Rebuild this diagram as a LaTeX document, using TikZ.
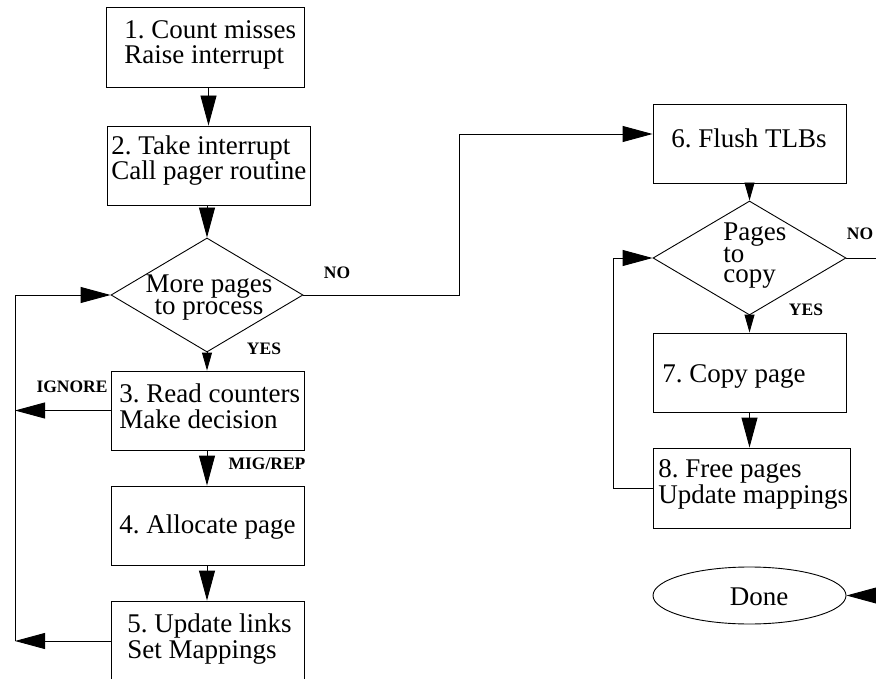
\documentclass[tikz,border=0pt]{standalone}
\usepackage{fontspec}
\setmainfont{Liberation Serif}
\usetikzlibrary{arrows.meta,shapes.geometric}
\frenchspacing
\begin{document}
\begin{tikzpicture}[x=1pt,y=-1pt,
  line width=0.9pt,
  box/.style={draw,rectangle,inner sep=0pt},
  dia/.style={draw,diamond,inner sep=0pt},
  txt/.style={font=\fontsize{27}{25.5}\selectfont,inner sep=0pt,align=left,anchor=base west},
  tag/.style={font=\fontsize{17.5}{17.5}\selectfont\bfseries,inner sep=0pt},
  big/.style={-{Triangle[length=30pt,width=16pt]}},
  small/.style={-{Triangle[length=18pt,width=10pt]}}]
\useasboundingbox (0,0) rectangle (876,679);
\clip (0,0) rectangle (876,679);

% left column: steps 1-5
\node[box,minimum width=198pt,minimum height=80pt] (b1) at (205,47) {};
\node[box,minimum width=203pt,minimum height=79pt] (b2) at (208.5,165.5) {};
\node[dia,minimum width=192pt,minimum height=114pt] (d1) at (207,295) {};
\node[box,minimum width=193pt,minimum height=79pt] (b3) at (207.5,410.5) {};
\node[box,minimum width=193pt,minimum height=79pt] (b4) at (207.5,525.5) {};
\node[box,minimum width=193pt,minimum height=80pt] (b5) at (207.5,641) {};

% multi-line texts are placed by the baseline of their last line
\node[txt] (t1) at (124,64) {1. Count misses\\Raise interrupt};
\node[txt] (t2) at (111,180) {2. Take interrupt\\Call pager routine};
\node[txt,align=center,anchor=base,font=\fontsize{27}{22}\selectfont] (td1) at (209,315) {More pages\\to process};
\node[txt] (t3) at (119,428) {3. Read counters\\Make decision};
\node[txt,anchor=base] (t4) at (207.5,533) {4. Allocate page};
\node[txt] (t5) at (127,658) {5. Update links\\Set Mappings};

% right column: steps 6-8
\node[box,minimum width=193pt,minimum height=79pt] (b6) at (749.5,143.5) {};
\node[dia,minimum width=193pt,minimum height=114pt] (d2) at (749.5,258) {};
\node[box,minimum width=193pt,minimum height=79pt] (b7) at (749.5,372.5) {};
\node[box,minimum width=197pt,minimum height=80pt] (b8) at (751.5,488) {};
\node[draw,ellipse,inner sep=0pt,minimum width=193pt,minimum height=57pt] (done) at (749.5,595.5) {};

\node[txt,anchor=base] (t6) at (749,148) {6. Flush TLBs};
\node[txt,font=\fontsize{27}{20.5}\selectfont] (td2) at (723,283) {Pages\\to\\copy};
\node[txt] (t7) at (662,382) {7. Copy page};
\node[txt] (t8) at (658,503) {8. Free pages\\Update mappings};
\node[txt,anchor=base] (tdone) at (759,605) {Done};

% branch labels
\node[tag] (no1) at (337,273) {NO};
\node[tag] (yes1) at (264,349) {YES};
\node[tag] (ign) at (72,387) {IGNORE};
\node[tag] (mig) at (267,464) {MIG/REP};
\node[tag] (no2) at (860,234) {NO};
\node[tag] (yes2) at (806,310) {YES};

% flow of the left column
\draw[big] (b2.north |- b1.south) -- (b2.north);
\draw[big] (d1.north |- b2.south) -- (d1.north);
\draw[small] (d1.south) -- (d1.south |- b3.north);
\draw[big] (d1.south |- b3.south) -- (d1.south |- b4.north);
\draw[big] (d1.south |- b4.south) -- (d1.south |- b5.north);

% return rail on the far left
\coordinate (railtop) at (15,295);
\coordinate (railmid) at (15,410.5);
\coordinate (railbot) at (15,641);
\draw[big] (b3.west) -- (railmid);
\draw[big] (b5.west) -- (railbot);
\draw[big] (railbot) -- (railtop) -- (d1.west);

% NO branch to the flush step
\draw[big] (d1.east) -- ++(156,0) |- ([yshift=9.5pt]b6.west);

% flow of the right column
\draw[small] (b6.south) -- (d2.north);
\draw[small] (d2.south) -- (b7.north);
\draw[big] (b7.south) -- (b7.south |- b8.north);
\draw[big] (b8.west) -- ++(-39,0) |- (d2.west);

% exit to done
\coordinate (exitno) at (882,258);
\coordinate (exitdone) at (882,595.5);
\draw (d2.east) -- (exitno);
\draw[big] (exitdone) -- (done.east);
\end{tikzpicture}
\end{document}
